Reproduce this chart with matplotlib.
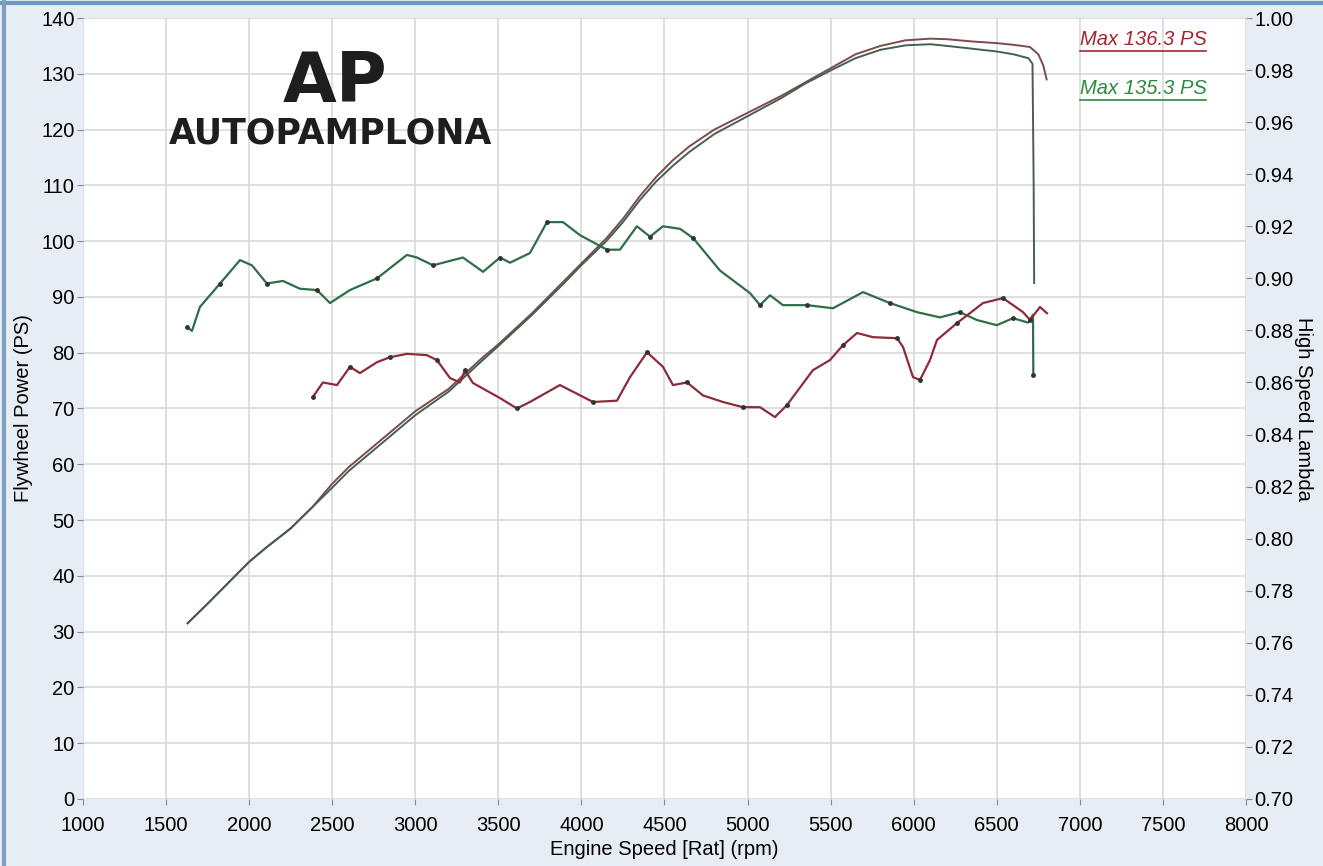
import matplotlib
matplotlib.use("Agg")
import matplotlib.pyplot as plt
from matplotlib.lines import Line2D

# power runs (rpm, PS)
red_pw_rpm = [1630, 1750, 1900, 2000, 2100, 2250, 2380, 2500, 2600, 2800, 3000, 3200, 3400, 3500,
              3700, 3900, 4000, 4150, 4250, 4350, 4450, 4550, 4650, 4800, 5000, 5200, 5350, 5500,
              5650, 5800, 5950, 6100, 6200, 6350, 6500, 6600, 6700, 6750, 6780, 6800]
red_pw = [31.5, 35, 39.5, 42.5, 45, 48.5, 52.3, 56.5, 59.5, 64.5, 69.5, 73.5, 79, 81.5,
          87, 93, 96, 100.5, 104, 108, 111.5, 114.5, 117, 120, 123, 126, 128.5, 131,
          133.5, 135, 136, 136.3, 136.2, 135.8, 135.5, 135.2, 134.8, 133.5, 131.5, 129]
green_pw_rpm = [1630, 1750, 1900, 2000, 2100, 2250, 2380, 2500, 2600, 2800, 3000, 3200, 3400, 3500,
                3700, 3900, 4000, 4150, 4250, 4350, 4450, 4550, 4650, 4800, 5000, 5200, 5350, 5500,
                5650, 5800, 5950, 6100, 6200, 6350, 6500, 6600, 6690, 6715, 6722, 6725]
green_pw = [31.5, 35, 39.5, 42.5, 45, 48.5, 52.3, 55.8, 58.8, 63.8, 68.8, 73, 78.5, 81.2,
            86.7, 92.6, 95.7, 100, 103.4, 107.3, 110.7, 113.5, 116, 119.2, 122.4, 125.6, 128.3, 130.6,
            132.8, 134.3, 135.1, 135.3, 135.0, 134.5, 134.0, 133.5, 132.8, 131.8, 110, 92.5]

# lambda runs (rpm, lambda)
green_lam_rpm = [1626, 1656, 1704, 1825, 1945, 2017, 2107, 2204, 2306, 2408, 2487, 2607, 2770, 2950,
                 3010, 3107, 3287, 3408, 3510, 3570, 3690, 3793, 3889, 3991, 4154, 4232, 4334, 4413,
                 4491, 4594, 4672, 4834, 5015, 5075, 5135, 5213, 5358, 5514, 5695, 5857, 6020, 6158,
                 6278, 6380, 6500, 6598, 6688, 6718, 6720]
green_lam = [0.8813, 0.8798, 0.889, 0.898, 0.907, 0.905, 0.898, 0.899, 0.896, 0.8955, 0.8905, 0.8955,
             0.900, 0.909, 0.908, 0.905, 0.908, 0.9025, 0.908, 0.906, 0.9097, 0.9216, 0.9216, 0.9166,
             0.911, 0.911, 0.920, 0.916, 0.920, 0.919, 0.9155, 0.903, 0.8943, 0.8897, 0.8935, 0.8897,
             0.8897, 0.8885, 0.8947, 0.8905, 0.887, 0.885, 0.887, 0.884, 0.882, 0.8847, 0.883, 0.886,
             0.8628]
red_lam_rpm = [2384, 2444, 2529, 2607, 2667, 2770, 2848, 2950, 3070, 3130, 3209, 3269, 3299, 3347,
               3510, 3612, 3690, 3871, 4070, 4214, 4292, 4395, 4491, 4551, 4636, 4732, 4852, 4972,
               5075, 5165, 5237, 5393, 5496, 5574, 5659, 5755, 5900, 5936, 5996, 6038, 6098, 6140,
               6260, 6338, 6417, 6537, 6598, 6658, 6700, 6760, 6802]
red_lam = [0.8544, 0.860, 0.859, 0.866, 0.8636, 0.8678, 0.8697, 0.871, 0.8705, 0.8686, 0.8617, 0.860,
           0.8647, 0.8598, 0.854, 0.850, 0.8525, 0.859, 0.8525, 0.853, 0.862, 0.8716, 0.866, 0.859,
           0.860, 0.855, 0.8525, 0.8505, 0.8505, 0.8467, 0.8513, 0.8647, 0.8686, 0.8743, 0.879,
           0.8774, 0.877, 0.8736, 0.862, 0.861, 0.8686, 0.8763, 0.8828, 0.8866, 0.8905, 0.8924,
           0.8897, 0.887, 0.884, 0.889, 0.8866]

x_ticks = list(range(1000, 8001, 500))
ps_ticks = list(range(0, 141, 10))
lam_ticks = [0.70 + 0.02 * i for i in range(16)]

RED = "#8e2b3b"
GREEN = "#2f6e48"
TICK_FONT = ["Liberation Sans Narrow", "Liberation Sans", "DejaVu Sans"]

fig = plt.figure(figsize=(13.23, 8.66), dpi=100)
fig.patch.set_facecolor("#e6edf5")
ax = fig.add_axes([0.0627, 0.0774, 0.8791, 0.9018])
ax.set_facecolor("white")

ax.plot(red_pw_rpm, red_pw, color="#7d4b4e", lw=1.4)
ax.plot(green_pw_rpm, green_pw, color="#45604f", lw=1.4)

ax.set_xlim(1000, 8000)
ax.set_ylim(0, 140)
ax.set_xticks(x_ticks)
ax.set_yticks(ps_ticks)
ax.grid(True, color="#d9d9d9", lw=1.2)
ax.set_axisbelow(True)
for s in ax.spines.values():
    s.set_visible(False)
ax.tick_params(direction="out", length=4, color="#888888", pad=8, labelsize=14.5)
for lab in ax.get_xticklabels() + ax.get_yticklabels():
    lab.set_family(TICK_FONT)
ax.tick_params(axis="y", pad=2)
ax.set_xlabel("Engine Speed [Rat] (rpm)", fontsize=14.5, family=TICK_FONT, labelpad=4)
ax.set_ylabel("Flywheel Power (PS)", fontsize=14.5, family=TICK_FONT, labelpad=6)

ax2 = ax.twinx()
ax2.plot(green_lam_rpm, green_lam, color=GREEN, lw=1.6,
         marker="o", markersize=2.5, markevery=3, mfc="#333333", mec="#333333")
ax2.plot(red_lam_rpm, red_lam, color=RED, lw=1.6,
         marker="o", markersize=2.5, markevery=3, mfc="#333333", mec="#333333")
ax2.set_ylim(0.70, 1.00)
ax2.set_yticks(lam_ticks)
ax2.set_yticklabels([f"{v:.2f}" for v in lam_ticks])
for s in ax2.spines.values():
    s.set_visible(False)
ax2.tick_params(direction="out", length=4, color="#888888", pad=2, labelsize=14.5)
for lab in ax2.get_yticklabels():
    lab.set_family(TICK_FONT)
ax2.set_ylabel("High Speed Lambda", fontsize=14.5, family=TICK_FONT, rotation=270, labelpad=14)

# max labels, underlined
t1 = ax.text(0.857, 0.972, "Max 136.3 PS", transform=ax.transAxes, color="#a3262f",
             fontsize=14.5, style="italic", family=TICK_FONT[1:], va="center")
t2 = ax.text(0.857, 0.910, "Max 135.3 PS", transform=ax.transAxes, color="#2b8a3c",
             fontsize=14.5, style="italic", family=TICK_FONT[1:], va="center")

# logo
fig.text(335 / 1323, 1 - 83 / 866, "AP", fontsize=50, weight="bold", color="#1e1e1e",
         ha="center", va="center", family="DejaVu Sans")
fig.text(331 / 1323, 1 - 133 / 866, "AUTOPAMPLONA", fontsize=25, weight="bold", color="#1e1e1e",
         ha="center", va="center", family="DejaVu Sans")

# blue frame at top and left edge
fig.add_artist(Line2D([0, 1], [0.997, 0.997], transform=fig.transFigure, color="#6d9ac4", lw=3))
fig.add_artist(Line2D([0.003, 0.003], [0, 1], transform=fig.transFigure, color="#7f9fbf", lw=3))

fig.canvas.draw()
inv = fig.transFigure.inverted()
for t in (t1, t2):
    bb = t.get_window_extent().transformed(inv)
    fig.add_artist(Line2D([bb.x0, bb.x1], [bb.y0 - 0.002, bb.y0 - 0.002],
                          transform=fig.transFigure, color=t.get_color(), lw=1.2))

fig.savefig("out.png", dpi=100, facecolor=fig.get_facecolor())
